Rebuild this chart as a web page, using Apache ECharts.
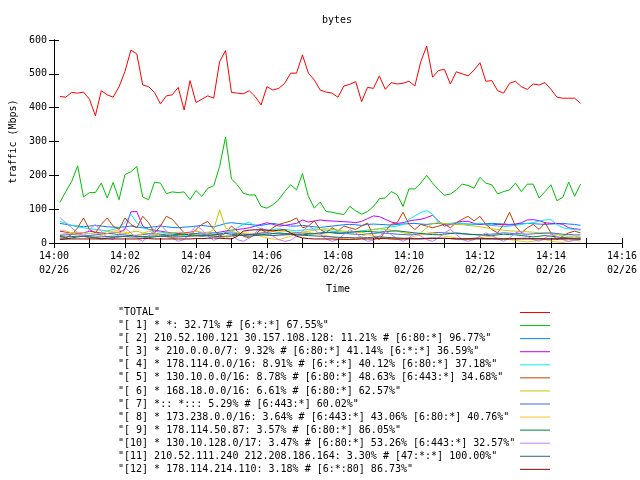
<!DOCTYPE html>
<html><head><meta charset="utf-8">
<script src="https://cdn.jsdelivr.net/npm/echarts@6/dist/echarts.min.js"></script>
<style>html,body{margin:0;padding:0;background:#fff}#c{width:640px;height:480px}</style>
</head><body><div id="c"></div>
<script>
// x tick labels (every 2 minutes) and date line
const tickLabels = ['14:00','14:02','14:04','14:06','14:08','14:10','14:12','14:14','14:16'];
const dateLabel = '02/26';
// samples every 10 s from 14:00:10 to 14:14:50 (seconds after 14:00)
const firstSample = 10, sampleStep = 10, sampleCount = 89;
const sampleTimes = [];
for (let i = 0; i < sampleCount; i++) sampleTimes.push(firstSample + i * sampleStep);

const seriesNames = [
  '"TOTAL"',
  '"[ 1] * *: 32.71% # [6:*:*] 67.55%"',
  '"[ 2] 210.52.100.121 30.157.108.128: 11.21% # [6:80:*] 96.77%"',
  '"[ 3] * 210.0.0.0/7: 9.32% # [6:80:*] 41.14% [6:*:*] 36.59%"',
  '"[ 4] * 178.114.0.0/16: 8.91% # [6:*:*] 40.12% [6:80:*] 37.18%"',
  '"[ 5] * 130.10.0.0/16: 8.78% # [6:80:*] 48.63% [6:443:*] 34.68%"',
  '"[ 6] * 168.18.0.0/16: 6.61% # [6:80:*] 62.57%"',
  '"[ 7] *:: *::: 5.29% # [6:443:*] 60.02%"',
  '"[ 8] * 173.238.0.0/16: 3.64% # [6:443:*] 43.06% [6:80:*] 40.76%"',
  '"[ 9] * 178.114.50.87: 3.57% # [6:80:*] 86.05%"',
  '"[10] * 130.10.128.0/17: 3.47% # [6:80:*] 53.26% [6:443:*] 32.57%"',
  '"[11] 210.52.111.240 212.208.186.164: 3.30% # [47:*:*] 100.00%"',
  '"[12] * 178.114.214.110: 3.18% # [6:*:80] 86.73%"'
];
const seriesColors = ['#ff0000','#00c000','#0080ff','#c000ff','#00eeee','#c04000','#c8c800','#4169e1','#ffc020','#008040','#c080ff','#306080','#8b0000'];

const total = [433,431,445,443,446,425,376,450,438,431, 462,507,570,559,467,462,445,411,435,438,
  460,393,480,415,425,435,428,536,569,445, 443,441,450,433,408,462,452,457,472,502,
  502,556,502,482,452,446,443,431,464,469, 477,418,460,457,494,454,474,470,472,478,
  464,536,582,490,510,513,470,506,500,494, 511,533,478,480,450,443,472,478,462,454,
  470,467,474,454,431,428,428,428,413];
const s1 = [120,152,182,228,136,149,149,177,133,179, 128,202,211,226,136,128,180,177,146,151,
  149,151,128,155,138,162,169,226,313,189, 172,147,142,142,108,103,113,128,152,172,
  157,205,138,103,121,93,91,87,84,108, 95,85,93,108,131,133,152,143,108,160,
  160,177,200,177,157,141,145,157,174,170, 162,194,177,172,145,152,157,177,152,174,
  174,133,152,172,125,135,180,138,174];
const s2 = [58,55,52,50,48,50,52,50,48,47, 46,48,50,47,45,46,48,50,48,46,
  45,47,48,50,52,50,48,52,58,60, 58,56,55,53,52,55,58,55,52,50,
  50,52,50,48,46,48,50,52,54,55, 54,52,55,56,55,54,53,55,56,57,
  58,56,55,57,58,56,55,56,57,56, 55,56,57,58,57,56,55,56,57,58,
  57,56,55,56,57,58,56,55,52];
const s3 = [35,32,30,28,30,35,32,30,28,30, 32,40,92,93,50,40,38,35,32,30,
  28,30,32,35,30,28,30,32,35,38, 40,42,45,50,55,60,55,50,52,55,
  58,68,62,65,68,66,65,64,63,62, 60,64,72,80,78,70,62,58,60,65,
  68,70,75,82,65,50,55,60,64,64, 58,55,54,53,55,54,53,55,60,68,
  69,66,60,58,58,55,45,42,40];
const s4 = [64,58,52,48,45,42,40,38,36,40, 45,60,85,60,45,40,35,32,30,28,
  25,22,25,28,30,32,30,28,30,35, 45,55,62,50,42,38,40,42,40,38,
  36,38,40,42,40,38,35,33,32,30, 32,35,38,40,42,45,48,50,55,70,
  80,90,96,85,60,55,58,60,58,55, 56,58,55,52,50,48,50,52,55,58,
  60,65,68,69,55,45,42,40,38];
const s5 = [20,15,25,45,74,40,30,55,74,50, 40,74,55,45,79,60,30,50,79,70,
  50,30,20,40,55,64,40,20,30,50, 35,20,15,25,40,30,45,55,60,65,
  74,45,50,65,40,30,45,35,50,45, 40,50,59,20,10,35,55,60,91,55,
  40,55,50,45,50,55,45,60,70,79, 65,79,55,40,30,55,91,50,30,45,
  55,40,60,30,10,20,30,35,30];
const s6 = [25,28,30,32,30,28,26,30,34,32, 30,28,32,35,30,28,26,25,28,30,
  32,30,28,25,22,30,40,98,45,35, 30,28,26,28,30,32,34,36,35,33,
  30,32,35,38,40,42,40,38,35,33, 32,30,35,40,42,40,38,35,30,28,
  25,30,45,58,60,58,56,55,54,52, 50,48,45,42,40,38,36,35,34,33,
  32,30,30,28,25,22,20,20,18];
const s7 = [22,24,26,25,23,22,24,26,28,27, 25,24,22,23,25,27,28,26,24,22,
  23,25,27,28,26,25,24,26,28,30, 28,26,25,27,29,30,28,27,26,28,
  30,29,28,27,28,30,32,30,28,27, 26,25,27,28,30,29,28,26,25,24,
  25,27,28,30,31,30,29,28,27,26, 25,24,25,26,28,30,29,28,27,26,
  27,28,29,30,28,26,25,24,24];
const s8 = [38,36,30,25,20,15,18,22,28,35, 38,32,25,20,28,35,30,22,18,15,
  20,25,30,35,32,28,22,18,15,20, 25,30,28,25,20,15,12,10,15,20,
  25,30,32,28,25,22,18,15,12,10, 15,20,25,22,18,15,12,10,12,15,
  20,25,28,30,25,20,18,15,12,10, 12,15,18,20,15,12,10,8,5,3,
  5,8,10,6,3,2,5,8,6];
const s9 = [10,12,15,18,20,18,15,12,14,16, 18,20,22,20,18,16,18,20,22,24,
  25,26,24,22,20,22,24,26,28,26, 24,22,20,22,24,26,28,30,28,26,
  25,24,26,28,30,32,30,28,30,32, 34,35,34,33,32,34,35,36,34,32,
  30,28,26,25,24,26,28,30,28,26, 25,24,23,22,24,26,25,24,22,20,
  18,20,22,20,18,16,15,14,15];
const s10 = [75,60,45,30,20,40,55,35,15,10, 25,45,30,15,5,20,40,55,35,15,
  5,10,30,50,40,20,8,15,35,25, 10,5,15,30,45,35,20,10,5,8,
  20,35,50,40,25,12,5,10,25,40, 30,15,5,8,20,35,25,12,5,15,
  30,20,10,5,15,30,40,25,10,5, 10,20,30,22,12,5,15,30,35,20,
  10,5,15,25,20,10,5,8,10];
const s11 = [18,18,19,20,19,18,17,18,19,20, 20,19,18,18,19,20,21,20,19,18,
  18,19,20,21,22,21,20,19,20,21, 22,23,24,25,24,23,22,23,24,25,
  24,23,22,21,20,19,18,17,16,16, 15,15,16,17,18,17,16,15,14,14,
  13,13,14,15,14,13,13,12,12,13, 14,14,13,13,12,12,13,13,14,14,
  13,13,12,12,12,13,13,12,12];
const s12 = [12,12,12,12,12,12,12,12,12,12, 12,12,12,12,13,13,12,12,12,12,
  12,12,12,13,13,14,15,14,13,12, 20,35,38,39,39,38,36,38,39,30,
  20,15,13,12,12,12,12,11,11,11, 11,12,12,12,13,13,12,12,12,12,
  12,12,13,13,14,14,13,12,12,12, 12,12,12,12,12,12,12,12,12,12,
  12,12,12,12,12,12,12,12,12];

const allValues = [total,s1,s2,s3,s4,s5,s6,s7,s8,s9,s10,s11,s12];

const FONT = 'DejaVu Sans Mono';
const chart = echarts.init(document.getElementById('c'), null, {renderer: 'canvas'});

const series = allValues.map((vals, k) => ({
  name: seriesNames[k],
  type: 'line',
  data: vals.map((v, i) => [sampleTimes[i], v]),
  xAxisIndex: 0, yAxisIndex: 0,
  showSymbol: false, symbol: 'none',
  lineStyle: {width: 1, color: seriesColors[k]},
  itemStyle: {color: seriesColors[k]},
  animation: false,
  emphasis: {disabled: true}
}));

const xCommon = {type: 'value', min: 0, max: 960, interval: 60, splitLine: {show: false},
  axisLine: {lineStyle: {color: '#000', width: 1}},
  axisTick: {inside: true, length: 5, lineStyle: {color: '#000'}}};
const yCommon = {type: 'value', min: 0, max: 600, interval: 100, splitLine: {show: false},
  axisLine: {show: true, lineStyle: {color: '#000', width: 1}},
  axisTick: {show: true, inside: true, length: 5, lineStyle: {color: '#000'}}};

chart.setOption({
  animation: false,
  backgroundColor: '#fff',
  title: {text: 'bytes', left: 337, top: 15, textAlign: 'center', padding: 0,
    textStyle: {fontFamily: FONT, fontSize: 10, fontWeight: 'normal', color: '#000'}},
  grid: {left: 52, right: 18, top: 40, bottom: 237, containLabel: false},
  xAxis: [
    Object.assign({}, xCommon, {position: 'bottom',
      name: 'Time', nameLocation: 'middle', nameGap: 41,
      nameTextStyle: {fontFamily: FONT, fontSize: 10, color: '#000'},
      axisLabel: {margin: 6, fontFamily: FONT, fontSize: 10, color: '#000', lineHeight: 14,
        formatter: v => (v % 120 === 0) ? tickLabels[v / 120] + '\n' + dateLabel : ''}}),
    Object.assign({}, xCommon, {position: 'top', axisLabel: {show: false}})
  ],
  yAxis: [
    Object.assign({}, yCommon, {position: 'left',
      name: 'traffic (Mbps)', nameLocation: 'middle', nameGap: 34, nameRotate: 90,
      nameTextStyle: {fontFamily: FONT, fontSize: 10, color: '#000'},
      axisLabel: {margin: 7, fontFamily: FONT, fontSize: 10, color: '#000'}}),
    Object.assign({}, yCommon, {position: 'right', axisLabel: {show: false}})
  ],
  legend: {
    orient: 'vertical', left: 118, top: 307.5, height: 172, padding: 0,
    align: 'right', itemGap: 3.07, itemWidth: 30, itemHeight: 1, icon: 'rect',
    selectedMode: false,
    itemStyle: {borderWidth: 0},
    data: seriesNames,
    formatter: name => '{a|' + name + '}',
    textStyle: {fontFamily: FONT, fontSize: 10, color: '#000',
      rich: {a: {fontFamily: FONT, fontSize: 10, color: '#000', width: 397, align: 'left'}}}
  },
  series: series
});
</script></body></html>
